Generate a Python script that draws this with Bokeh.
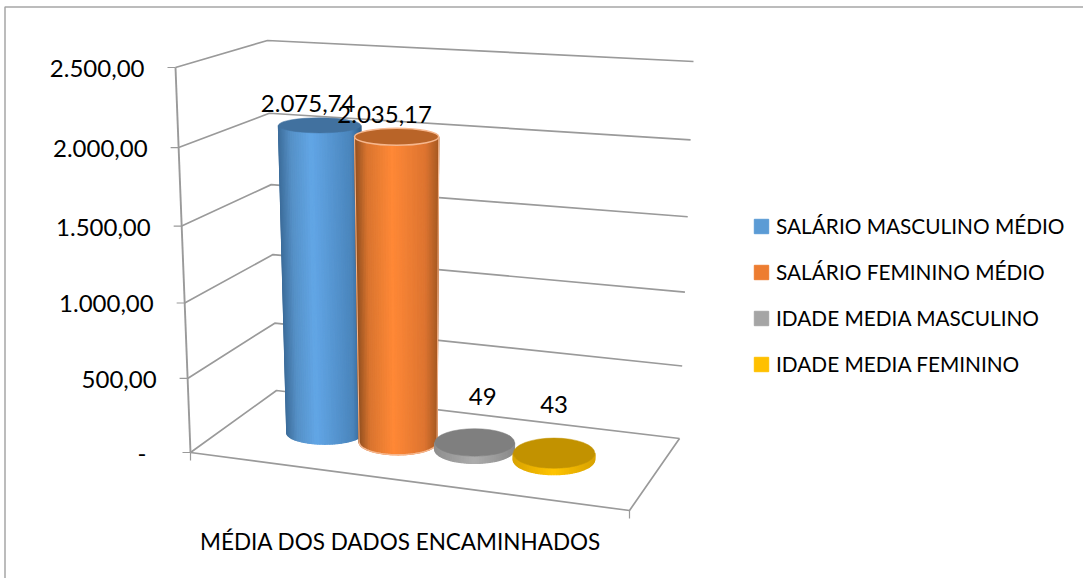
import numpy as np
from bokeh.plotting import figure
from bokeh.models import Range1d, Legend, LegendItem
from bokeh.core.properties import value
from bokeh.embed import file_html
from bokeh.resources import INLINE

# ---------- data ----------
series = ["SALÁRIO MASCULINO MÉDIO", "SALÁRIO FEMININO MÉDIO", "IDADE MEDIA MASCULINO", "IDADE MEDIA FEMININO"]
values = [2075.74, 2035.17, 49, 43]
value_labels = ["2.075,74", "2.035,17", "49", "43"]
tick_values = [0, 500, 1000, 1500, 2000, 2500]
tick_labels = ["-", "500,00", "1.000,00", "1.500,00", "2.000,00", "2.500,00"]
category = "MÉDIA DOS DADOS ENCAMINHADOS"

# ---------- style ----------
FONT = value("Lato")
legend_colors = ["#5B9BD5", "#ED7D31", "#A5A5A5", "#FFC000"]
top_colors = ["#41719F", "#B96428", "#7F7F7F", "#C29200"]
rim_colors = [None, "#F6B78E", None, None]
side_stops = [
    [(0, "#34628E"), (.12, "#4A85BC"), (.6, "#62A6E6"), (.85, "#5590C6"), (1, "#3C6C9A")],
    [(0, "#A85A22"), (.15, "#DD7430"), (.55, "#FF8836"), (.85, "#D9742F"), (1, "#8E4E1F")],
    [(0, "#8A8A8A"), (.5, "#ADADAD"), (1, "#8E8E8E")],
    [(0, "#D9A300"), (.5, "#FFC400"), (1, "#D9A300")],
]
GRID = "#9A9A9A"
value_max = tick_values[-1]

# wall / floor corners of the 3D box, in page pixels
FL0, BL0, FR0, BR0 = (190, 452), (276, 390), (629, 510), (679, 438)
FL1, BL1, FR1, BR1 = (175, 67), (267, 40), (643, 95), (693, 61)
PERSP = 1.05
# where each cylinder stands on the floor
floor_u = [0.217, 0.391, 0.568, 0.757]
floor_w = [0.5, 0.5, 0.53, 0.53]


def frac(v):
    t = v / value_max
    return t / (t + (1 - t) * PERSP)


def project(u, v, w):
    """u along the category axis, v value, w depth; all through one projection."""
    f = frac(v)
    out = []
    for i in (0, 1):
        lo = (FL0[i] * (1 - u) + FR0[i] * u) * (1 - w) + (BL0[i] * (1 - u) + BR0[i] * u) * w
        hi = (FL1[i] * (1 - u) + FR1[i] * u) * (1 - w) + (BL1[i] * (1 - u) + BR1[i] * u) * w
        out.append(lo * (1 - f) + hi * f)
    return out


def shade(stops, t):
    for (a, ca), (b, cb) in zip(stops, stops[1:]):
        if t <= b:
            k = (t - a) / (b - a)
            c = [round(int(ca[i:i + 2], 16) * (1 - k) + int(cb[i:i + 2], 16) * k) for i in (1, 3, 5)]
            return "#%02x%02x%02x" % tuple(c)
    return stops[-1][1]


p = figure(width=1083, height=578, x_range=Range1d(0, 1083), y_range=Range1d(578, 0),
           toolbar_location=None, output_backend="svg", min_border=0,
           background_fill_color="white", border_fill_color="white")
p.axis.visible = False
p.grid.visible = False
p.outline_line_color = None

# chart frame
p.line([4.5, 4.5, 1083], [578, 6.5, 6.5], line_color="#A6A6A6", line_width=1.5)

# walls
for tv in tick_values:
    a, b, c = project(0, tv, 0), project(0, tv, 1), project(1, tv, 1)
    p.line([a[0], b[0], c[0]], [a[1], b[1], c[1]], line_color=GRID, line_width=1.7)
    p.line([a[0] - 8, a[0]], [a[1], a[1]], line_color=GRID, line_width=1.2)
a, b = project(0, 0, 0), project(0, value_max, 0)
p.line([a[0], b[0]], [a[1], b[1]], line_color=GRID, line_width=1.9)
# floor edges
a, b, c = project(0, 0, 0), project(1, 0, 0), project(1, 0, 1)
p.line([a[0], b[0], c[0]], [a[1], b[1], c[1]], line_color=GRID, line_width=1.7)
p.line([a[0], a[0]], [a[1], a[1] + 8], line_color=GRID, line_width=1.2)
p.line([b[0], b[0]], [b[1], b[1] + 8], line_color=GRID, line_width=1.2)

# tick labels
tx = [project(0, tv, 0)[0] - 31 for tv in tick_values]
ty = [project(0, tv, 0)[1] + 1 for tv in tick_values]
tx[0] -= 13
p.text(tx, ty, text=tick_labels, text_font=FONT, text_font_size="24px", text_color="#000000",
       text_align="right", text_baseline="middle")

# cylinders
label_offsets = [(-11.5, -22), (-12, -22), (8, -46), (0, -49)]
theta = np.linspace(np.pi, 0, 49)
label_x, label_y = [], []
for i, v in enumerate(values):
    u = floor_u[i]
    bx, by = project(u, 0, floor_w[i])
    tx_, ty_ = project(u, v, floor_w[i])
    f = frac(v)
    rx0 = 37 + 5 * u
    ry0 = 9.7 + 7.3 * u
    rx1, ry1 = rx0 * (1 + .1 * f), ry0 * (1 - .4 * f)
    xs, ys, cols = [], [], []
    for k in range(len(theta) - 1):
        t0, t1 = theta[k], theta[k + 1]
        xs.append([tx_ + rx1 * np.cos(t0), tx_ + rx1 * np.cos(t1), bx + rx0 * np.cos(t1), bx + rx0 * np.cos(t0)])
        ys.append([ty_ + ry1 * np.sin(t0), ty_ + ry1 * np.sin(t1), by + ry0 * np.sin(t1), by + ry0 * np.sin(t0)])
        cols.append(shade(side_stops[i], (1 - np.cos((t0 + t1) / 2)) / 2))
    p.patches(xs, ys, fill_color=cols, line_color=cols, line_width=1.2)
    if rim_colors[i]:
        p.line(list(bx + rx0 * np.cos(theta)), list(by + ry0 * np.sin(theta)), line_color=rim_colors[i], line_width=1.5)
        ex = [tx_ - rx1, bx - rx0]
        p.line(ex, [ty_, by], line_color=rim_colors[i], line_width=1)
        ex = [tx_ + rx1, bx + rx0]
        p.line(ex, [ty_, by], line_color=rim_colors[i], line_width=1)
    p.ellipse([tx_], [ty_], width=[2 * rx1], height=[2 * ry1], fill_color=top_colors[i],
              line_color=rim_colors[i] or top_colors[i], line_width=1.5 if rim_colors[i] else 0.5)
    label_x.append(tx_ + label_offsets[i][0])
    label_y.append(ty_ + label_offsets[i][1])

p.text(label_x, label_y, text=value_labels, text_font=FONT, text_font_size="24px", text_color="#000000",
       text_align="center", text_baseline="middle")

# category label
p.text([400], [541], text=[category], text_font=FONT, text_font_size="22.5px", text_color="#000000",
       text_align="center", text_baseline="middle")

# legend
items = []
for s, c in zip(series, legend_colors):
    r = p.quad(left=[np.nan], right=[np.nan], top=[np.nan], bottom=[np.nan], fill_color=c, line_color=c)
    items.append(LegendItem(label=s, renderers=[r]))
legend = Legend(items=items, location=(752, 578 - 376), orientation="vertical", padding=0, margin=0,
                spacing=21, glyph_width=18, glyph_height=18, label_standoff=6, label_height=18,
                label_text_font="Lato", label_text_font_size="20.8px", label_text_color="#000000",
                label_text_baseline="middle", background_fill_alpha=0, border_line_color=None)
p.add_layout(legend, "center")

open("out.html", "w").write(file_html(p, INLINE))
